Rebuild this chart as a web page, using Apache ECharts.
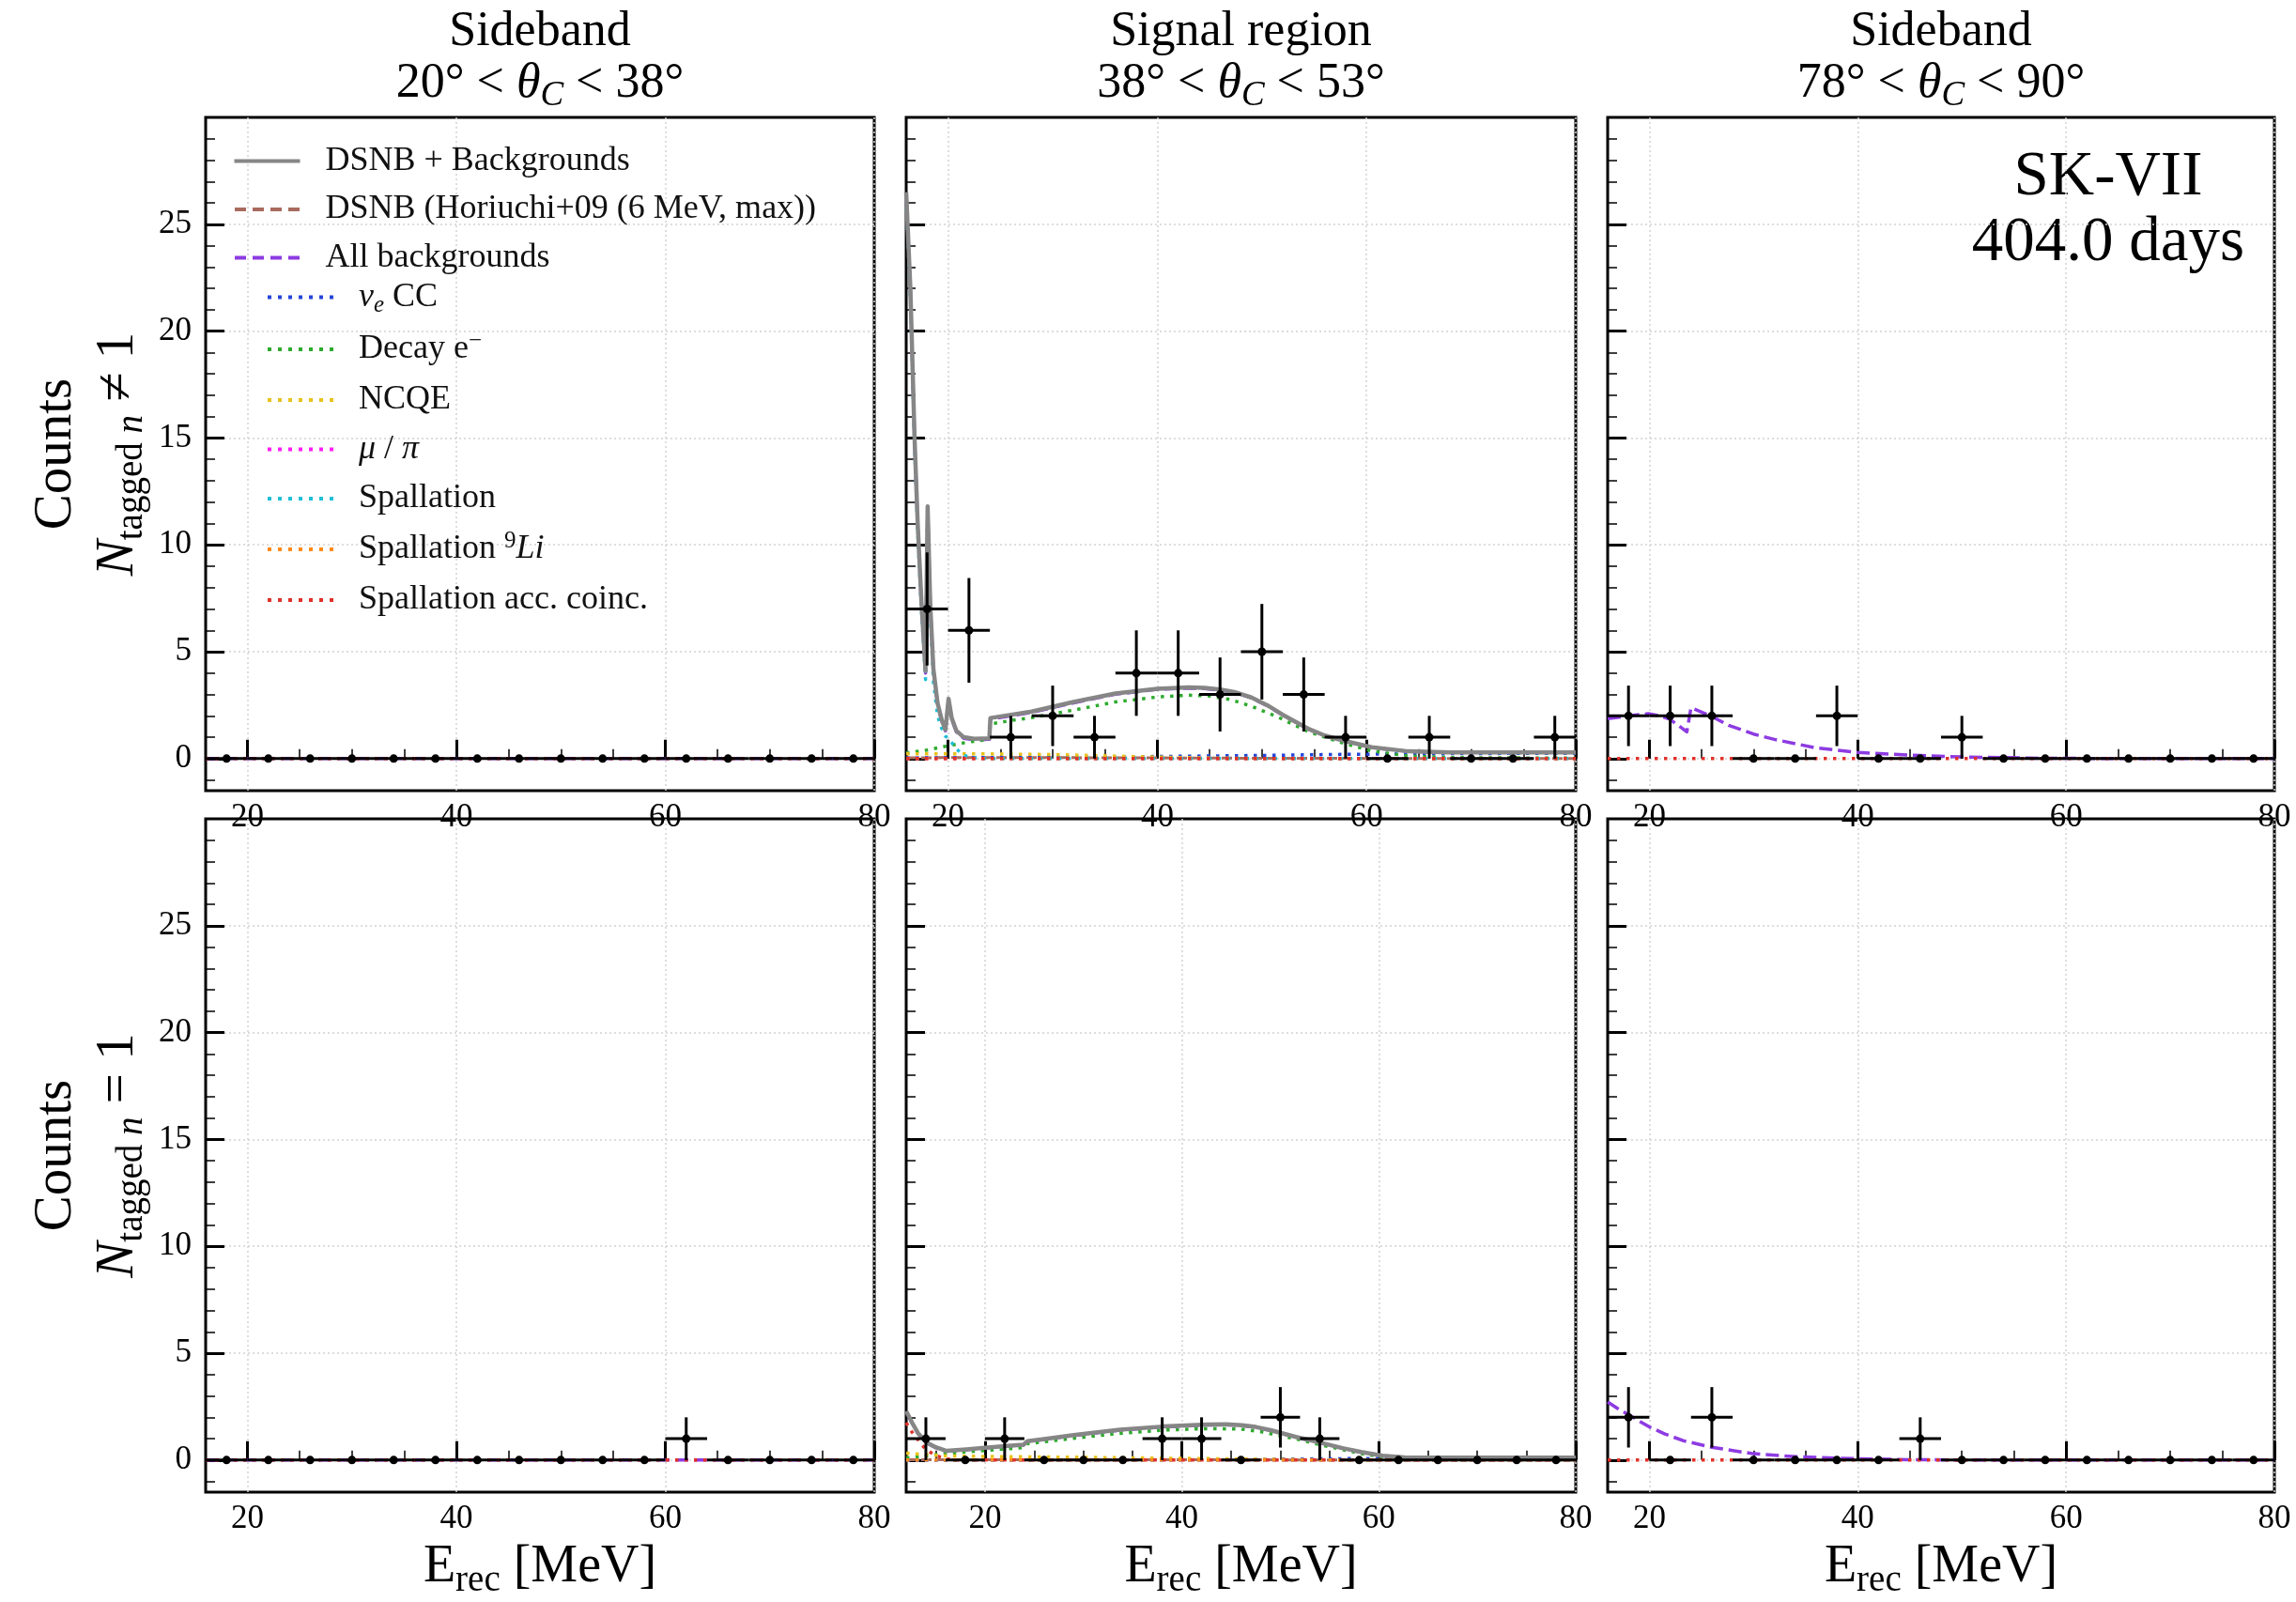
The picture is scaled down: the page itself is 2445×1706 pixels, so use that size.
<!DOCTYPE html>
<html>
<head>
<meta charset="utf-8">
<script src="https://cdn.jsdelivr.net/npm/echarts@6/dist/echarts.min.js"></script>
<style>html,body{margin:0;padding:0;background:#fff}#c{width:2445px;height:1706px}</style>
</head>
<body>
<div id="c"></div>
<script>
const FONT = "'Liberation Serif', 'DejaVu Serif', serif";

// ---------- tick values ----------
const xMajorTicks = [20, 40, 60, 80];
const xMinorTicksFrom16 = [20, 25, 30, 35, 40, 45, 50, 55, 60, 65, 70, 75, 80];
const xMinorTicksFrom12 = [15, 20, 25, 30, 35, 40, 45, 50, 55, 60, 65, 70, 75, 80];
const yMajorTicks = [0, 5, 10, 15, 20, 25];
const yMinorTicks = [-1, 0, 1, 2, 3, 4, 5, 6, 7, 8, 9, 10, 11, 12, 13, 14, 15, 16, 17, 18, 19, 20, 21, 22, 23, 24, 25, 26, 27, 28, 29];

// ---------- binned data (4 MeV bins) ----------
const binHalfWidth = 2;
const binCenters = [18, 22, 26, 30, 34, 38, 42, 46, 50, 54, 58, 62, 66, 70, 74, 78];
const binCentersSigN1 = [14, 18, 22, 26, 30, 34, 38, 42, 46, 50, 54, 58, 62, 66, 70, 74, 78];

const countsSbLowNn1 = [0, 0, 0, 0, 0, 0, 0, 0, 0, 0, 0, 0, 0, 0, 0, 0];
const countsSigNn1   = [7, 6, 1, 2, 1, 4, 4, 3, 5, 3, 1, 0, 1, 0, 0, 1];
const countsSbHighNn1 = [2, 2, 2, 0, 0, 2, 0, 0, 1, 0, 0, 0, 0, 0, 0, 0];
const countsSbLowN1  = [0, 0, 0, 0, 0, 0, 0, 0, 0, 0, 0, 1, 0, 0, 0, 0];
const countsSigN1    = [1, 0, 1, 0, 0, 0, 1, 1, 0, 2, 1, 0, 0, 0, 0, 0, 0];
const countsSbHighN1 = [2, 0, 2, 0, 0, 0, 0, 1, 0, 0, 0, 0, 0, 0, 0, 0];

// ---------- model curves [E, counts] ----------
const zeroFrom16 = [[16, 0], [80, 0]];
const zeroFrom12 = [[12, 0], [80, 0]];

// Signal region, N_tagged != 1
const sigNn1Total = [[16,26.5],[16.4,22],[16.8,15],[17.1,11],[17.45,7.4],[17.85,4.1],[18.05,11.8],[18.3,7.2],[18.6,4.2],[19.0,2.6],[19.4,1.8],[19.75,1.35],[20.05,2.8],[20.35,1.9],[20.8,1.3],[21.5,1.0],[22.5,0.93],[23.95,0.95],[24.05,1.9],[28,2.2],[32,2.65],[36,3.05],[40,3.27],[43,3.33],[44.5,3.31],[46,3.23],[47.5,3.1],[49,2.86],[50.5,2.5],[52,2.05],[54.5,1.38],[56,1.08],[57.8,0.84],[60.5,0.53],[64,0.34],[68,0.29],[80,0.29]];
const sigNn1Bkg = [[16,26.4],[16.4,21.9],[16.8,14.9],[17.1,10.9],[17.45,7.3],[17.85,4.0],[18.05,11.7],[18.3,7.1],[18.6,4.1],[19.0,2.55],[19.4,1.75],[19.75,1.3],[20.05,2.75],[20.35,1.85],[20.8,1.25],[21.5,0.95],[22.5,0.88],[23.95,0.9],[24.05,1.85],[28,2.16],[32,2.61],[36,3.01],[40,3.24],[43,3.3],[44.5,3.28],[46,3.2],[47.5,3.08],[49,2.84],[50.5,2.48],[52,2.04],[54.5,1.37],[56,1.07],[57.8,0.83],[60.5,0.52],[64,0.34],[68,0.29],[80,0.29]];
const sigNn1Dsnb = [[16,0.04],[24,0.05],[36,0.04],[48,0.02],[60,0.01],[80,0]];
const sigNn1Nue = [[16,0.03],[30,0.06],[40,0.1],[50,0.15],[58,0.2],[64,0.22],[72,0.24],[80,0.25]];
const sigNn1Decay = [[16,0.26],[18,0.4],[20,0.6],[22,0.78],[23.95,0.9],[24.05,1.62],[26,1.78],[28,1.92],[32,2.27],[36,2.65],[40,2.88],[43,2.97],[45,2.93],[47,2.76],[49,2.45],[51.5,1.95],[54.5,1.25],[57.8,0.72],[60.5,0.36],[64,0.12],[68,0.05],[80,0.02]];
const sigNn1Ncqe = [[16,0.23],[24,0.22],[30,0.19],[36,0.12],[40,0.07],[45,0.03],[50,0.01],[55,0],[80,0]];
const sigNn1Spall = [[16,26.2],[16.4,21.6],[16.8,14.6],[17.1,10.6],[17.45,7.0],[17.85,3.7],[18.05,11.3],[18.3,6.6],[18.6,3.6],[19.0,2.0],[19.4,1.4],[19.75,1.05],[20.05,0.95],[20.35,0.75],[20.8,0.45],[21.5,0.15],[22.5,0.04],[24,0],[80,0]];

// Signal region, N_tagged == 1
const sigN1Total = [[12,2.29],[12.6,1.75],[13.2,1.26],[14.1,0.82],[15,0.6],[16.1,0.43],[18.1,0.5],[20,0.58],[22,0.65],[23.9,0.72],[24.3,0.88],[26,0.98],[29.2,1.18],[33.7,1.42],[38.1,1.57],[42.6,1.66],[44.5,1.67],[46.1,1.63],[47.5,1.55],[49,1.4],[51.5,1.09],[54.2,0.8],[56.3,0.56],[58.2,0.38],[60.4,0.2],[62.6,0.13],[66,0.12],[80,0.12]];
const sigN1Bkg = [[12,2.27],[12.6,1.73],[13.2,1.24],[14.1,0.8],[15,0.58],[16.1,0.41],[18.1,0.48],[20,0.56],[22,0.63],[23.9,0.7],[24.3,0.86],[26,0.96],[29.2,1.16],[33.7,1.4],[38.1,1.55],[42.6,1.64],[44.5,1.65],[46.1,1.61],[47.5,1.53],[49,1.39],[51.5,1.08],[54.2,0.79],[56.3,0.55],[58.2,0.37],[60.4,0.2],[62.6,0.13],[66,0.12],[80,0.12]];
const sigN1Dsnb = [[12,0.02],[24,0.02],[40,0.015],[60,0.005],[80,0]];
const sigN1Nue = [[12,0],[30,0.01],[45,0.03],[55,0.06],[62,0.08],[70,0.09],[80,0.1]];
const sigN1Decay = [[12,0.1],[14,0.2],[16,0.3],[20,0.45],[23.9,0.58],[24.3,0.76],[29,1.02],[33.5,1.24],[38,1.4],[42.5,1.47],[46,1.45],[48,1.33],[49.5,1.18],[51.5,1.0],[54.2,0.7],[58.2,0.3],[60.4,0.15],[62.6,0.06],[66,0.02],[80,0.01]];
const sigN1Ncqe = [[12,0.32],[14,0.25],[16,0.2],[20,0.17],[30,0.13],[40,0.08],[50,0.03],[56,0],[80,0]];
const sigN1Acc = [[12,1.75],[12.6,1.3],[13.2,0.95],[13.8,0.6],[14.5,0.35],[15.2,0.18],[16,0.06],[17,0.01],[18,0],[80,0]];

// Sideband 78-90 deg
const sbHighNn1Bkg = [[16,1.87],[18,2.0],[19.9,2.1],[21,2.0],[21.9,1.86],[22.8,1.55],[23.6,1.25],[24.0,2.38],[26,1.97],[27.6,1.56],[30,1.15],[32,0.9],[36,0.5],[40,0.29],[45,0.16],[50,0.08],[57.5,0.02],[65,0],[80,0]];
const sbHighN1Bkg = [[16,2.72],[17,2.4],[18,2.12],[20,1.55],[21.5,1.22],[23.3,0.9],[26,0.6],[29.8,0.31],[34,0.16],[40,0.06],[45,0.02],[50,0],[80,0]];

// ---------- names ----------
const nTotal = 'DSNB + Backgrounds';
const nDsnb = 'DSNB (Horiuchi+09 (6 MeV, max))';
const nBkg = 'All backgrounds';
const nNue = 'νe CC';
const nDecay = 'Decay e−';
const nNcqe = 'NCQE';
const nMuPi = 'μ/π';
const nSpall = 'Spallation';
const nLi9 = 'Spallation 9Li';
const nAcc = 'Spallation acc. coinc.';

const legendRich = {};
legendRich[nNue] = '{i|ν}{sb|e} CC';
legendRich[nDecay] = 'Decay e{sp|−}';
legendRich[nMuPi] = '{i|μ} / {i|π}';
legendRich[nLi9] = 'Spallation {sp|9}{i|Li}';

const dotted = [3.5, 6.5];
const styles = {};
styles[nTotal] = {color: '#868686', type: 'solid', width: 4.5, z: 3};
styles[nDsnb]  = {color: '#a86b5d', type: [11, 5], width: 3, z: 2};
styles[nBkg]   = {color: '#8d3be2', type: [14, 6], width: 3.5, z: 2};
styles[nNue]   = {color: '#2545d8', type: dotted, width: 3.5, z: 2};
styles[nDecay] = {color: '#2eaa2e', type: dotted, width: 3.5, z: 2};
styles[nNcqe]  = {color: '#e8c21c', type: dotted, width: 3.5, z: 2};
styles[nMuPi]  = {color: '#ff1ff5', type: dotted, width: 3.5, z: 2};
styles[nSpall] = {color: '#1fbfd6', type: dotted, width: 3.5, z: 2};
styles[nLi9]   = {color: '#ff8a1a', type: dotted, width: 3.5, z: 2};
styles[nAcc]   = {color: '#e0312a', type: dotted, width: 3.5, z: 2.5};

// ---------- panels ----------
const gridBoxes = [
  {left: 219, top: 125, width: 712}, {left: 965, top: 125, width: 713}, {left: 1712, top: 125, width: 710},
  {left: 219, top: 872, width: 712}, {left: 965, top: 872, width: 713}, {left: 1712, top: 872, width: 710}
];
const panels = [
  {xMin: 16, minor: xMinorTicksFrom16, centers: binCenters, counts: countsSbLowNn1,
   curves: [[nBkg, zeroFrom16], [nAcc, zeroFrom16]]},
  {xMin: 16, minor: xMinorTicksFrom16, centers: binCenters, counts: countsSigNn1,
   curves: [[nBkg, sigNn1Bkg], [nDsnb, sigNn1Dsnb], [nNue, sigNn1Nue], [nDecay, sigNn1Decay],
            [nNcqe, sigNn1Ncqe], [nMuPi, zeroFrom16], [nSpall, sigNn1Spall], [nLi9, zeroFrom16], [nAcc, zeroFrom16], [nTotal, sigNn1Total]]},
  {xMin: 16, minor: xMinorTicksFrom16, centers: binCenters, counts: countsSbHighNn1,
   curves: [[nBkg, sbHighNn1Bkg], [nAcc, zeroFrom16]]},
  {xMin: 16, minor: xMinorTicksFrom16, centers: binCenters, counts: countsSbLowN1,
   curves: [[nBkg, zeroFrom16], [nAcc, zeroFrom16]]},
  {xMin: 12, minor: xMinorTicksFrom12, centers: binCentersSigN1, counts: countsSigN1,
   curves: [[nBkg, sigN1Bkg], [nDsnb, sigN1Dsnb], [nNue, sigN1Nue], [nDecay, sigN1Decay],
            [nNcqe, sigN1Ncqe], [nMuPi, zeroFrom12], [nSpall, zeroFrom12], [nLi9, zeroFrom12], [nAcc, sigN1Acc], [nTotal, sigN1Total]]},
  {xMin: 16, minor: xMinorTicksFrom16, centers: binCenters, counts: countsSbHighN1,
   curves: [[nBkg, sbHighN1Bkg], [nAcc, zeroFrom16]]}
];

const yNameTop = '{c|Counts}\n{n|N}{s|tagged }{si|n}{c| ≠ 1}';
const yNameBottom = '{c|Counts}\n{n|N}{s|tagged }{si|n}{c| = 1}';
const xName = '{e|E}{s|rec}{e| [MeV]}';

function rs(size, extra) {
  return Object.assign({fontSize: size, fontFamily: FONT, color: '#000'}, extra || {});
}

const grids = [], xAxes = [], yAxes = [], series = [];
panels.forEach((p, g) => {
  const box = gridBoxes[g];
  grids.push({left: box.left, top: box.top, width: box.width, height: 717,
    show: true, borderColor: '#000', borderWidth: 3, backgroundColor: 'transparent', containLabel: false, outerBoundsMode: 'none'});
  const isLeft = g % 3 === 0, isBottom = g >= 3;
  xAxes.push({
    type: 'value', gridIndex: g, position: 'bottom', min: p.xMin, max: 80,
    axisLine: {show: false},
    axisTick: {show: true, inside: true, length: 20, lineStyle: {color: '#000', width: 3}, customValues: xMajorTicks},
    axisLabel: {show: true, customValues: xMajorTicks, margin: 11, color: '#000', fontSize: 35, fontFamily: FONT},
    splitLine: {show: true, lineStyle: {color: '#d2d2d2', width: 1.5, type: [2, 3]}},
    minorTick: {show: false}, minorSplitLine: {show: false},
    name: isBottom ? xName : '', nameLocation: 'middle', nameGap: 50, nameMoveOverlap: false,
    nameTextStyle: {fontSize: 56, fontFamily: FONT, color: '#000', lineHeight: 60,
      rich: {e: rs(56, {lineHeight: 60}), s: rs(39, {lineHeight: 20, padding: [29, 0, 0, 0]})}}
  });
  xAxes.push({
    type: 'value', gridIndex: g, position: 'bottom', min: p.xMin, max: 80,
    axisLine: {show: false},
    axisTick: {show: true, inside: true, length: 10, lineStyle: {color: '#000', width: 1.5}, customValues: p.minor},
    axisLabel: {show: false}, splitLine: {show: false}
  });
  yAxes.push({
    type: 'value', gridIndex: g, position: 'left', min: -1.5, max: 30,
    axisLine: {show: false},
    axisTick: {show: true, inside: true, length: 20, lineStyle: {color: '#000', width: 3}, customValues: yMajorTicks},
    axisLabel: {show: isLeft, customValues: yMajorTicks, margin: 15, color: '#000', fontSize: 35, fontFamily: FONT},
    splitLine: {show: true, lineStyle: {color: '#d2d2d2', width: 1.5, type: [2, 3]}},
    name: isLeft ? (isBottom ? yNameBottom : yNameTop) : '', nameLocation: 'middle', nameRotate: 90, nameGap: 60,
    nameMoveOverlap: false,
    nameTextStyle: {fontSize: 57, fontFamily: FONT, color: '#000', lineHeight: 66, align: 'center',
      rich: {c: rs(57, {lineHeight: 66}), n: rs(57, {lineHeight: 66, fontStyle: 'italic'}),
             s: rs(39, {lineHeight: 20, padding: [30, 0, 0, 0]}),
             si: rs(39, {lineHeight: 20, padding: [30, 0, 0, 0], fontStyle: 'italic'})}}
  });
  yAxes.push({
    type: 'value', gridIndex: g, position: 'left', min: -1.5, max: 30,
    axisLine: {show: false},
    axisTick: {show: true, inside: true, length: 10, lineStyle: {color: '#000', width: 1.5}, customValues: yMinorTicks},
    axisLabel: {show: false}, splitLine: {show: false}
  });
  p.curves.forEach(([name, data], k) => {
    const st = styles[name];
    series.push({
      type: 'line', name: name, xAxisIndex: 2 * g, yAxisIndex: 2 * g, data: data,
      symbol: 'none', showSymbol: false, smooth: false, silent: true, z: st.z, zlevel: 0,
      itemStyle: {color: st.color},
      lineStyle: {color: st.color, type: st.type, width: st.width, join: 'round'}
    });
  });
  series.push({
    type: 'custom', name: 'Data', xAxisIndex: 2 * g, yAxisIndex: 2 * g, z: 5, silent: true,
    data: p.centers.map((c, i) => [c, p.counts[i]]),
    encode: {x: 0, y: 1},
    renderItem: function (params, api) {
      const x = api.value(0), y = api.value(1), e = Math.sqrt(y);
      const l = api.coord([x - binHalfWidth, y]), r = api.coord([x + binHalfWidth, y]);
      const c = api.coord([x, y]);
      const st = {stroke: '#000', lineWidth: 3};
      const ch = [{type: 'line', shape: {x1: l[0], y1: l[1], x2: r[0], y2: r[1]}, style: st}];
      if (e > 0) {
        const t = api.coord([x, y + e]), b = api.coord([x, y - e]);
        ch.push({type: 'line', shape: {x1: t[0], y1: t[1], x2: b[0], y2: b[1]}, style: st});
      }
      ch.push({type: 'circle', shape: {cx: c[0], cy: c[1], r: 4.5}, style: {fill: '#000'}});
      return {type: 'group', children: ch};
    }
  });
});

// ---------- legend ----------
const iconSolid = 'path://M0,0H70V4H0Z';
const iconDashed = 'path://M0,0H12V4H0Z M19,0H31V4H19Z M38,0H50V4H38Z M57,0H69V4H57Z';
const iconDotted = 'path://M0,0H4V4H0Z M11,0H15V4H11Z M22,0H26V4H22Z M33,0H37V4H33Z M44,0H48V4H44Z M55,0H59V4H55Z M66,0H70V4H66Z';
function legItem(name, icon) {
  return {name: name, icon: icon, itemStyle: {color: styles[name].color, borderWidth: 0, opacity: 1}};
}
const legendText = {
  fontFamily: FONT, fontSize: 36, color: '#111', lineHeight: 40, padding: [0, 0, 0, 22],
  rich: {
    i: rs(36, {fontStyle: 'italic', color: '#111'}),
    sb: rs(25, {fontStyle: 'italic', color: '#111', lineHeight: 20, padding: [18, 0, 0, 0]}),
    sp: rs(25, {color: '#111', lineHeight: 20, padding: [0, 0, 18, 0]})
  }
};
const legendFormatter = name => legendRich[name] || name;

const titleRich = {
  a: rs(52, {lineHeight: 55}), i: rs(52, {lineHeight: 55, fontStyle: 'italic'}),
  s: rs(37, {lineHeight: 20, fontStyle: 'italic', padding: [26, 0, 0, 0]})
};
const panelTitles = [['Sideband', '20°', '38°'], ['Signal region', '38°', '53°'], ['Sideband', '78°', '90°']];
const titleCenters = [575, 1321.5, 2067];
const graphics = panelTitles.map((t, i) => ({
  type: 'text', x: titleCenters[i], y: 61.5, silent: true,
  style: {text: '{a|' + t[0] + '}\n{a|' + t[1] + ' < }{i|θ}{s|C}{a| < ' + t[2] + '}',
          align: 'center', verticalAlign: 'middle', rich: titleRich, fontFamily: FONT, fontSize: 52, fill: '#000'}
}));
graphics.push({type: 'text', x: 2245, y: 224, silent: true,
  style: {text: 'SK-VII\n404.0 days', align: 'center', verticalAlign: 'middle', fontFamily: FONT, fontSize: 67, lineHeight: 70, fill: '#000'}});

const option = {
  backgroundColor: '#fff',
  animation: false,
  grid: grids, xAxis: xAxes, yAxis: yAxes, series: series,
  legend: [
    {orient: 'vertical', left: 249.5, top: 151.5, padding: 0, itemWidth: 70, itemHeight: 4, itemGap: 11.5,
     selectedMode: false, textStyle: legendText, formatter: legendFormatter,
     data: [legItem(nTotal, iconSolid), legItem(nDsnb, iconDashed), legItem(nBkg, iconDashed)]},
    {orient: 'vertical', left: 285, top: 295, padding: 0, itemWidth: 70, itemHeight: 4, itemGap: 12.5,
     selectedMode: false, textStyle: legendText, formatter: legendFormatter,
     data: [legItem(nNue, iconDotted), legItem(nDecay, iconDotted), legItem(nNcqe, iconDotted), legItem(nMuPi, iconDotted),
            legItem(nSpall, iconDotted), legItem(nLi9, iconDotted), legItem(nAcc, iconDotted)]}
  ],
  graphic: graphics
};

const chart = echarts.init(document.getElementById('c'), null, {renderer: 'canvas', width: 2445, height: 1706});
chart.setOption(option);
</script>
</body>
</html>
